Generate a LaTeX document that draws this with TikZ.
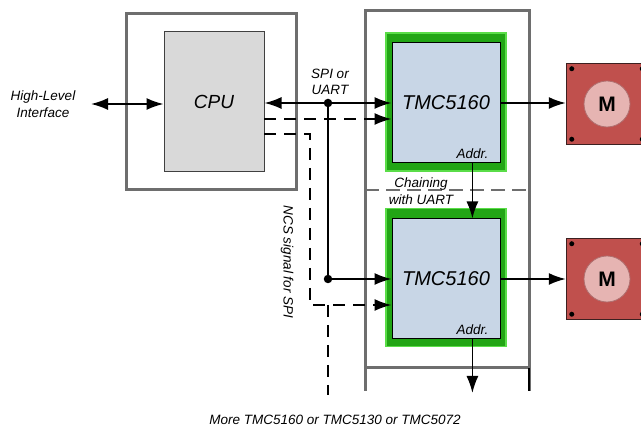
\documentclass[tikz,border=0pt]{standalone}
\usepackage{fontspec}
\setmainfont{Liberation Sans}
\usetikzlibrary{positioning}
\usetikzlibrary{arrows.meta}
\definecolor{framegray}{HTML}{6E6E6E}
\definecolor{cpugray}{HTML}{D9D9D9}
\definecolor{cpuedge}{HTML}{404040}
\definecolor{chipgreen}{HTML}{22A515}
\definecolor{glowedge}{HTML}{5ADD48}
\definecolor{chipblue}{HTML}{C8D6E6}
\definecolor{motorred}{HTML}{C0504D}
\definecolor{motoredge}{HTML}{3C2020}
\definecolor{circpink}{HTML}{E6B4B2}
\definecolor{circedge}{HTML}{B07070}
\tikzset{frame/.style = {draw=framegray, line width=3pt}}
\tikzset{cpubox/.style = {draw=cpuedge, fill=cpugray, line width=1pt,
                          minimum width=100pt, minimum height=140pt, inner sep=0,
                          font=\itshape\fontsize{19}{22}\selectfont}}
\tikzset{chipglow/.style = {draw=glowedge, fill=chipgreen, line width=1.5pt,
                            minimum width=120pt, minimum height=138pt, inner sep=0}}
\tikzset{chipbox/.style = {draw=black, fill=chipblue, line width=1pt,
                           minimum width=108pt, minimum height=120pt, inner sep=0,
                           font=\itshape\fontsize{20}{23}\selectfont}}
\tikzset{motorbox/.style = {draw=motoredge, fill=motorred, line width=1.5pt,
                            minimum size=81pt, inner sep=0}}
\tikzset{motorcirc/.style = {circle, draw=circedge, fill=circpink, line width=0.8pt,
                             minimum size=46pt, inner sep=0,
                             font=\bfseries\fontsize{21}{24}\selectfont}}
\tikzset{screw/.style = {fill, circle, inner sep=0, minimum size=5pt}}
\tikzset{junc/.style = {fill, circle, inner sep=0, minimum size=8.5pt}}
\tikzset{lbl/.style = {align=center, inner sep=0, font=\itshape\fontsize{13.5}{16.5}\selectfont}}
\tikzset{bus/.style = {line width=1.7pt}}
\tikzset{ncs/.style = {line width=1.7pt, dash pattern=on 12pt off 8pt}}
\tikzset{chaindash/.style = {draw=framegray, line width=1.5pt, dash pattern=on 14pt off 7pt}}
\tikzset{headtip/.style = {-{Latex[length=17pt,width=12pt]}}}
\tikzset{bothtips/.style = {{Latex[length=17pt,width=12pt]}-{Latex[length=17pt,width=12pt]}}}

\begin{document}
\begin{tikzpicture}[x=1pt, y=-1pt]
        \useasboundingbox (0,0) rectangle (641,430);
        \draw[frame] (126,14) rectangle (296,190);
        \draw[frame] (365,391) -- (365,11) -- (529,11) -- (529,391);
        \draw[frame] (365,368) -- (529,368);
        \draw[line width=2.5pt] (529,368) -- (529,391);
        \draw[chaindash] (365,190) -- (529,190);
        \node[cpubox] (cpu) at (214,102) {CPU};
        \node[chipglow] (glowA) at (446,102) {};
        \node[chipbox] (tmcA) at (446,103) {TMC5160};
        \node[chipglow] (glowB) at (446,277.5) {};
        \node[chipbox] (tmcB) at (446,279) {TMC5160};
        \node[lbl, anchor=south east] (addrA) at ([xshift=-12pt,yshift=5pt]tmcA.south east) {Addr.};
        \node[lbl, anchor=south east] (addrB) at ([xshift=-12pt,yshift=5pt]tmcB.south east) {Addr.};
        \node[motorbox] (motorA) at (607,104) {};
        \node[motorcirc] (rotorA) at (motorA) {M};
        \node[motorbox] (motorB) at (607,279) {};
        \node[motorcirc] (rotorB) at (motorB) {M};
        \foreach \m in {motorA,motorB} {
            \node[screw] (\m-nw) at ([xshift=6pt,yshift=-6pt]\m.north west) {};
            \node[screw] (\m-sw) at ([xshift=6pt,yshift=6pt]\m.south west) {};
            \node[screw] (\m-ne) at ([xshift=-6pt,yshift=-6pt]\m.north east) {};
            \node[screw] (\m-se) at ([xshift=-6pt,yshift=6pt]\m.south east) {};
        }
        \node[lbl] (hli) at (43,104) {High-Level\\Interface};
        \node[lbl] (spilbl) at (330,82) {SPI or\\UART};
        \node[lbl] (chainlbl) at (421,191) {Chaining\\with UART};
        \node[lbl, rotate=-90] (ncslbl) at (287,262) {NCS signal for SPI};
        \node[lbl] (morelbl) at (335,420) {More TMC5160 or TMC5130 or TMC5072};
        \coordinate (hliend) at (91,104);
        \coordinate (ncsA) at (264,119);
        \coordinate (ncsB) at (264,134);
        \coordinate (ncsBdown) at (310,305);
        \coordinate (ncsMore) at (328,395);
        \coordinate (moreend) at (addrB.south |- 0,393);
        \node[junc] (jA) at (328,103) {};
        \node[junc] (jB) at (328,279) {};
        \draw[bus, bothtips] (hliend) -- (hliend -| cpu.west);
        \draw[bus, bothtips] (tmcA.west -| cpu.east) -- (tmcA.west);
        \draw[bus] (jA.center) -- (jB.center);
        \draw[bus, headtip] (jB.center) -- (tmcB.west);
        \draw[ncs, headtip] (ncsA) -- (ncsA -| tmcA.west);
        \draw[ncs, headtip] (ncsB) -| (ncsBdown) -- (ncsBdown -| tmcB.west);
        \draw[ncs] (jB |- ncsBdown) -- (ncsMore);
        \draw[bus, headtip] (addrA.south |- tmcA.south) -- (addrA.south |- tmcB.north);
        \draw[bus, headtip] (addrB.south |- tmcB.south) -- (moreend);
        \draw[bus, headtip] (tmcA.east) -- (tmcA.east -| motorA.west);
        \draw[bus, headtip] (tmcB.east) -- (tmcB.east -| motorB.west);
\end{tikzpicture}
\end{document}
